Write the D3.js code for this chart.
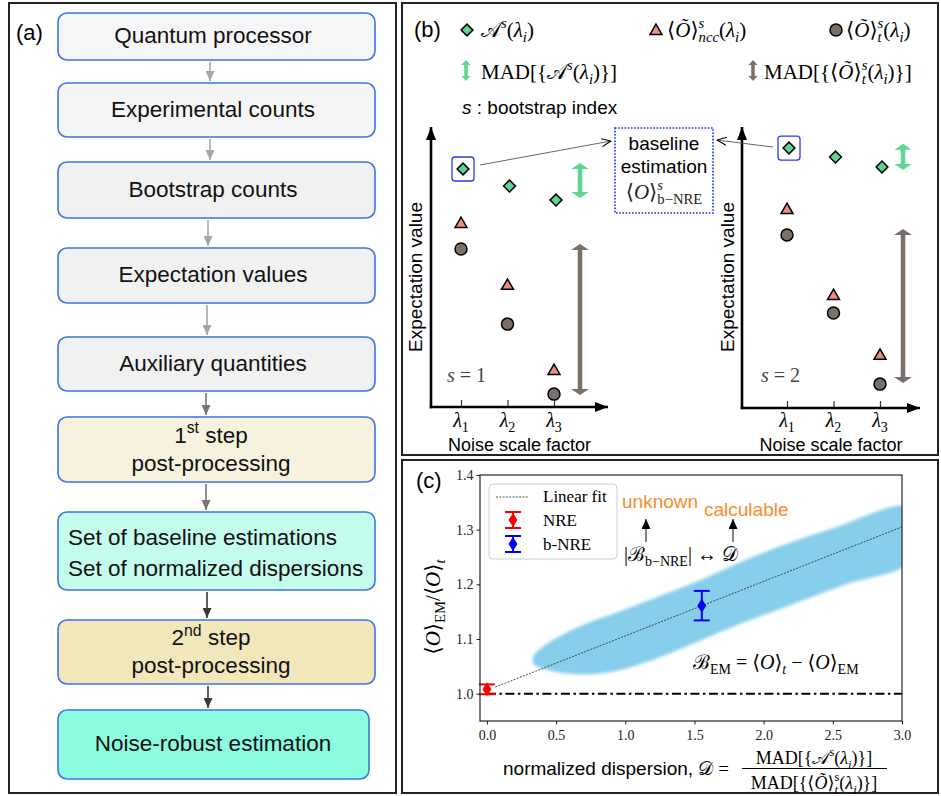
<!DOCTYPE html>
<html>
<head>
<meta charset="utf-8">
<script src="https://cdn.jsdelivr.net/npm/d3@7"></script>
<style>
  body { margin: 0; background: #fff; }
  svg { display: block; }
</style>
</head>
<body>
<div id="chart"></div>
<script>
// ---------- data ----------
// (a) flow chart
const steps = ['Quantum processor', 'Experimental counts', 'Bootstrap counts', 'Expectation values',
  'Auxiliary quantities', '1st step|post-processing', 'Set of baseline estimations|Set of normalized dispersions',
  '2nd step|post-processing', 'Noise-robust estimation']

// (b) toy bootstrap samples, expectation value in arbitrary units (0 = axis, 1 = arrow tip)
const lambdas = ['1', '2', '3']
const adaptS1 = [0.850, 0.789, 0.739]
const nccS1 = [0.657, 0.436, 0.132]
const tS1 = [0.564, 0.296, 0.046]
const madAS1 = [0.746, 0.871]
const madTS1 = [0.043, 0.582]
const adaptS2 = [0.925, 0.893, 0.858]
const nccS2 = [0.708, 0.402, 0.189]
const tS2 = [0.616, 0.338, 0.085]
const madAS2 = [0.847, 0.940]
const madTS2 = [0.089, 0.637]

// (c) ratio vs normalized dispersion
const xTicks = [0.0, 0.5, 1.0, 1.5, 2.0, 2.5, 3.0]
const yTicks = [1.0, 1.1, 1.2, 1.3, 1.4]
const cloudUpper = [[0.34, 1.070], [0.42, 1.088], [0.50, 1.101], [0.70, 1.126], [1.00, 1.154], [1.50, 1.203], [2.00, 1.258], [2.50, 1.302], [3.05, 1.340]]
const cloudLower = [[0.34, 1.054], [0.42, 1.045], [0.50, 1.040], [0.70, 1.035], [0.90, 1.040], [1.20, 1.062], [1.50, 1.093], [1.80, 1.125], [2.20, 1.163], [2.60, 1.201], [3.05, 1.242]]
const linearFit = [[0.06, 1.012], [3.0, 1.305]]
const nre = { d: 0.0, v: 1.008, lo: 0.999, hi: 1.017 }
const bnre = { d: 1.553, v: 1.161, lo: 1.134, hi: 1.188 }

// ---------- setup ----------
const W = 941, H = 796
const sans = "'Liberation Sans', Arial, sans-serif"
const serif = "'Liberation Serif', 'DejaVu Serif', serif"

const svg = d3.select('#chart').append('svg')
  .attr('width', W).attr('height', H)
svg.append('rect').attr('width', W).attr('height', H).attr('fill', '#fff')

const defs = svg.append('defs')

function headMarker(id, color, w, h) {
  defs.append('marker').attr('id', id)
    .attr('viewBox', `0 0 ${w} ${h}`)
    .attr('refX', w).attr('refY', h / 2)
    .attr('markerWidth', w).attr('markerHeight', h)
    .attr('markerUnits', 'userSpaceOnUse')
    .attr('orient', 'auto')
    .append('path').attr('d', `M0,0 L${w},${h / 2} L0,${h} z`).attr('fill', color)
}
headMarker('axhead', '#000', 13, 10)
headMarker('flow1', '#aaa59f', 10, 9)
headMarker('flow2', '#7a736c', 10, 9)
headMarker('flow3', '#3c3935', 10, 9)
headMarker('blk', '#000', 10, 9)
defs.append('marker').attr('id', 'open')
  .attr('viewBox', '0 0 10 9').attr('refX', 9.5).attr('refY', 4.5)
  .attr('markerWidth', 10).attr('markerHeight', 9)
  .attr('markerUnits', 'userSpaceOnUse').attr('orient', 'auto')
  .append('path').attr('d', 'M0,0.5 L9.5,4.5 L0,8.5').attr('fill', 'none').attr('stroke', '#000').attr('stroke-width', 1.1)

defs.append('filter').attr('id', 'soft').attr('x', '-10%').attr('y', '-10%').attr('width', '120%').attr('height', '120%')
  .append('feGaussianBlur').attr('stdDeviation', 0.9)

// small helpers for math-like text
const R = t => ({ t })
const I = t => ({ t, i: true })
const SUP = (t, i, back) => ({ t, v: 'sup', i, back })
const SUB = (t, i, back) => ({ t, v: 'sub', i, back })

function rich(parent, x, y, segs, o) {
  const size = o.size
  const t = parent.append('text').attr('x', x).attr('y', y)
    .attr('font-family', o.family || serif).attr('font-size', size)
    .attr('text-anchor', o.anchor || 'start').attr('fill', o.fill || '#000')
  let cur = 0, prev = null
  segs.forEach(s => {
    const shift = s.v === 'sup' ? -0.42 * size : s.v === 'sub' ? 0.26 * size : 0
    const ts = t.append('tspan').attr('dy', shift - cur).text(s.t)
    if (s.v) ts.attr('font-size', 0.7 * size)
    if (s.i) ts.attr('font-style', 'italic')
    if (s.f) ts.attr('font-family', s.f)
    if (s.back && prev) ts.attr('dx', -prev.node().getComputedTextLength())
    cur = shift
    prev = ts
  })
  return t
}

function panelFrame(x, y, w, h) {
  svg.append('rect').attr('x', x).attr('y', y).attr('width', w).attr('height', h)
    .attr('fill', 'none').attr('stroke', '#222').attr('stroke-width', 2)
}
panelFrame(9, 3, 387, 790)
panelFrame(402, 3, 536, 452)
panelFrame(402, 460, 536, 333)

// ---------- (a) flow chart ----------
const boxLayout = [[13, 60], [83, 137], [162, 218], [248, 303], [337, 391], [417, 482], [512, 590], [620, 684], [710, 779]]
const boxFills = ['#f6f6f8', '#f5f5f6', '#f1f1f2', '#f1f1f2', '#f1f1f2', '#f7f2dd', '#c4fcee', '#f1e7ba', '#8cfce0']
const flowArrowX = [210, 210, 208, 207, 206, 206, 207, 208]
const flowArrowCol = ['flow1', 'flow1', 'flow1', 'flow1', 'flow2', 'flow2', 'flow3', 'flow3']
const flowArrowStroke = ['#aaa59f', '#aaa59f', '#aaa59f', '#aaa59f', '#7a736c', '#7a736c', '#3c3935', '#3c3935']

const ga = svg.append('g')
ga.append('text').attr('x', 16).attr('y', 40).attr('font-family', sans).attr('font-size', 22).text('(a)')

ga.selectAll('rect.step').data(steps).enter().append('rect')
  .attr('class', 'step')
  .attr('x', 58)
  .attr('y', (d, i) => boxLayout[i][0])
  .attr('width', (d, i) => i === 8 ? 311 : 317)
  .attr('height', (d, i) => boxLayout[i][1] - boxLayout[i][0])
  .attr('rx', 9)
  .attr('fill', (d, i) => boxFills[i])
  .attr('stroke', '#3d74e0').attr('stroke-width', 1.6)

steps.forEach((s, i) => {
  const [t0, t1] = boxLayout[i]
  const cy = (t0 + t1) / 2
  const lines = s.split('|')
  if (lines.length === 1) {
    ga.append('text').attr('x', 213).attr('y', cy + 6.5).attr('text-anchor', 'middle')
      .attr('font-family', sans).attr('font-size', 22.5).attr('fill', '#111').text(s)
  } else if (i === 6) {
    lines.forEach((l, k) => {
      ga.append('text').attr('x', 68).attr('y', cy - 13 + k * 31 + 7)
        .attr('font-family', sans).attr('font-size', 22.5).attr('fill', '#111').text(l)
    })
  } else {
    const m = lines[0].match(/^(\d)(\w\w) (.*)$/)
    rich(ga, 211, cy - 7, [R(m[1]), SUP(m[2]), R(' ' + m[3])], { size: 22.5, family: sans, anchor: 'middle', fill: '#111' })
    ga.append('text').attr('x', 211).attr('y', cy + 21).attr('text-anchor', 'middle')
      .attr('font-family', sans).attr('font-size', 22.5).attr('fill', '#111').text(lines[1])
  }
})

flowArrowX.forEach((x, i) => {
  ga.append('line').attr('x1', x).attr('x2', x)
    .attr('y1', boxLayout[i][1] + 2).attr('y2', boxLayout[i + 1][0] - 2)
    .attr('stroke', flowArrowStroke[i]).attr('stroke-width', 1.6)
    .attr('marker-end', `url(#${flowArrowCol[i]})`)
})

// ---------- (b) ----------
const gb = svg.append('g')
const cA = '#5cd690', cN = '#ec8b80', cT = '#7a7067'
gb.append('text').attr('x', 414).attr('y', 37).attr('font-family', sans).attr('font-size', 22).text('(b)')

const sym = (type, size) => d3.symbol().type(type).size(size)()
const diamondPath = sym(d3.symbolSquare, 70)
const triPath = sym(d3.symbolTriangle, 62)

function madArrow(g, x, y1, y2, col, shaft, headW, headH) {
  g.append('line').attr('x1', x).attr('x2', x).attr('y1', y1 + headH - 1).attr('y2', y2 - headH + 1)
    .attr('stroke', col).attr('stroke-width', shaft)
  g.append('path').attr('d', `M${x},${y1} L${x + headW / 2},${y1 + headH} L${x - headW / 2},${y1 + headH} z`).attr('fill', col)
  g.append('path').attr('d', `M${x},${y2} L${x + headW / 2},${y2 - headH} L${x - headW / 2},${y2 - headH} z`).attr('fill', col)
}

// legend
gb.append('path').attr('d', diamondPath).attr('transform', 'translate(467,30) rotate(45)')
  .attr('fill', cA).attr('stroke', '#000').attr('stroke-width', 1.5)
rich(gb, 481, 37, [R('𝒜'), SUP('s', true), R('('), I('λ'), SUB('i', true), R(')')], { size: 21 })
gb.append('path').attr('d', triPath).attr('transform', 'translate(656,31)')
  .attr('fill', cN).attr('stroke', '#000').attr('stroke-width', 1.5)
rich(gb, 667, 37, [R('⟨'), I('Õ'), R('⟩'), SUP('s', true), SUB('ncc', true, true), R('('), I('λ'), SUB('i', true), R(')')], { size: 21 })
gb.append('circle').attr('cx', 836).attr('cy', 30).attr('r', 6)
  .attr('fill', cT).attr('stroke', '#000').attr('stroke-width', 1.5)
rich(gb, 846, 37, [R('⟨'), I('Õ'), R('⟩'), SUB('t', true), SUP('s', true, true), R('('), I('λ'), SUB('i', true), R(')')], { size: 21 })

madArrow(gb, 466, 60, 81, cA, 3.5, 9, 5)
rich(gb, 481, 79, [R('MAD[{'), R('𝒜'), SUP('s', true), R('('), I('λ'), SUB('i', true), R(')}]')], { size: 21 })
madArrow(gb, 753, 60, 81, cT, 3.5, 9, 5)
rich(gb, 764, 79, [R('MAD[{⟨'), I('Õ'), R('⟩'), SUB('t', true), SUP('s', true, true), R('('), I('λ'), SUB('i', true), R(')}]')], { size: 21 })

rich(gb, 462, 114, [{ t: 's', i: true, f: sans }, { t: ' : bootstrap index', f: sans }], { size: 19, family: sans })

const subplots = [
  { axisX: 431, axisY: 407, tipX: 608, l1: 461, l3: 554, barX: 580, sX: 447, labX: 415, s: '1',
    A: adaptS1, N: nccS1, T: tS1, madA: madAS1, madT: madTS1 },
  { axisX: 742, axisY: 408, tipX: 920, l1: 787, l3: 880, barX: 903, sX: 761, labX: 727, s: '2',
    A: adaptS2, N: nccS2, T: tS2, madA: madAS2, madT: madTS2 }
]

subplots.forEach(sp => {
  const g = gb.append('g')
  const x = d3.scalePoint().domain(lambdas).range([sp.l1, sp.l3])
  const y = d3.scaleLinear().domain([0, 1]).range([sp.axisY, 127])

  // ticks with lambda labels
  const ax = g.append('g').attr('transform', `translate(0,${sp.axisY})`)
    .call(d3.axisBottom(x).tickSize(-7).tickFormat(''))
  ax.select('.domain').remove()
  ax.selectAll('.tick line').attr('stroke', '#333').attr('stroke-width', 1.2)
  lambdas.forEach(l => {
    rich(g, x(l), 427, [I('λ'), SUB(l)], { size: 20, anchor: 'middle' })
  })

  // arrows for axes
  g.append('line').attr('x1', sp.axisX).attr('x2', sp.axisX).attr('y1', sp.axisY + 1.2).attr('y2', 127)
    .attr('stroke', '#000').attr('stroke-width', 2.6).attr('marker-end', 'url(#axhead)')
  g.append('line').attr('x1', sp.axisX - 1.2).attr('x2', sp.tipX).attr('y1', sp.axisY).attr('y2', sp.axisY)
    .attr('stroke', '#000').attr('stroke-width', 2.6).attr('marker-end', 'url(#axhead)')

  g.append('text').attr('x', (sp.axisX + sp.tipX) / 2).attr('y', 451).attr('text-anchor', 'middle')
    .attr('font-family', sans).attr('font-size', 18).text('Noise scale factor')
  g.append('text').attr('transform', `translate(${sp.labX + 7},277) rotate(-90)`).attr('text-anchor', 'middle')
    .attr('font-family', sans).attr('font-size', 19).text('Expectation value')

  rich(g, sp.sX, 382, [I('s'), R(' = ' + sp.s)], { size: 20, fill: '#444' })

  // MAD bars
  madArrow(g, sp.barX, y(sp.madA[1]), y(sp.madA[0]), cA, 4.5, 17, 6)
  madArrow(g, sp.barX, y(sp.madT[1]), y(sp.madT[0]), cT, 4.5, 18, 6)

  g.selectAll('circle.t').data(sp.T).enter().append('circle').attr('class', 't')
    .attr('cx', (d, i) => x(lambdas[i])).attr('cy', d => y(d)).attr('r', 6)
    .attr('fill', cT).attr('stroke', '#000').attr('stroke-width', 1.5)
  g.selectAll('path.n').data(sp.N).enter().append('path').attr('class', 'n')
    .attr('d', triPath).attr('transform', (d, i) => `translate(${x(lambdas[i])},${y(d) + 1})`)
    .attr('fill', cN).attr('stroke', '#000').attr('stroke-width', 1.5)
  g.selectAll('path.a').data(sp.A).enter().append('path').attr('class', 'a')
    .attr('d', diamondPath).attr('transform', (d, i) => `translate(${x(lambdas[i]) + 2},${y(d)}) rotate(45)`)
    .attr('fill', cA).attr('stroke', '#000').attr('stroke-width', 1.5)

  // highlight box around the first diamond
  g.append('rect').attr('x', x(lambdas[0]) + 2 - 11).attr('y', y(sp.A[0]) - 12)
    .attr('width', 22).attr('height', 24).attr('rx', 3)
    .attr('fill', 'none').attr('stroke', '#2a3cf0').attr('stroke-width', 1.3)
  sp.boxPt = [x(lambdas[0]) + 2, y(sp.A[0])]
})

// baseline estimation box
gb.append('rect').attr('x', 615).attr('y', 128).attr('width', 98).attr('height', 85)
  .attr('fill', '#fff').attr('stroke', '#1c2ee8').attr('stroke-width', 1.6).attr('stroke-dasharray', '1.6,1.6')
gb.append('text').attr('x', 664).attr('y', 150).attr('text-anchor', 'middle')
  .attr('font-family', sans).attr('font-size', 19).text('baseline')
gb.append('text').attr('x', 664).attr('y', 173).attr('text-anchor', 'middle')
  .attr('font-family', sans).attr('font-size', 19).text('estimation')
rich(gb, 664, 199, [R('⟨'), I('O'), R('⟩'), SUP('s', true), SUB('b−NRE', false, true)], { size: 21, anchor: 'middle', fill: '#222' })

gb.append('line').attr('x1', subplots[0].boxPt[0] + 17).attr('y1', subplots[0].boxPt[1] - 4)
  .attr('x2', 611).attr('y2', 141).attr('stroke', '#555').attr('stroke-width', 0.9).attr('marker-end', 'url(#open)')
gb.append('line').attr('x1', subplots[1].boxPt[0] - 16).attr('y1', subplots[1].boxPt[1] - 1)
  .attr('x2', 717).attr('y2', 140).attr('stroke', '#555').attr('stroke-width', 0.9).attr('marker-end', 'url(#open)')

// ---------- (c) ----------
const gc = svg.append('g')
gc.append('text').attr('x', 416).attr('y', 488).attr('font-family', sans).attr('font-size', 22).text('(c)')

const xC = d3.scaleLinear().domain([-0.05, 3.0]).range([480, 902])
const yC = d3.scaleLinear().domain([0.95, 1.4]).range([721, 475])

defs.append('clipPath').attr('id', 'plotclip').append('rect')
  .attr('x', 480).attr('y', 475).attr('width', 422).attr('height', 246)

const plot = gc.append('g').attr('clip-path', 'url(#plotclip)')
const cloudPts = cloudUpper.concat(cloudLower.slice().reverse())
const cloudLine = d3.line().x(d => xC(d[0])).y(d => yC(d[1])).curve(d3.curveCatmullRomClosed.alpha(0.5))
plot.append('path').attr('d', cloudLine(cloudPts)).attr('fill', '#87ceeb')
  .attr('stroke', '#b5e1f4').attr('stroke-width', 2.5).attr('stroke-opacity', 0.7)
  .attr('filter', 'url(#soft)')

// reference line at 1
plot.append('line').attr('x1', xC(0)).attr('x2', xC(3.0)).attr('y1', yC(1.0)).attr('y2', yC(1.0))
  .attr('stroke', '#000').attr('stroke-width', 2).attr('stroke-dasharray', '9,3.5,2.5,3.5')

// linear fit
plot.append('path').datum(linearFit)
  .attr('d', d3.line().x(d => xC(d[0])).y(d => yC(d[1])))
  .attr('fill', 'none').attr('stroke', '#222').attr('stroke-width', 0.8).attr('stroke-dasharray', '2,1.3')

function errPoint(g, cx, cy, ylo, yhi, col) {
  g.append('line').attr('x1', cx).attr('x2', cx).attr('y1', ylo).attr('y2', yhi).attr('stroke', col).attr('stroke-width', 2)
  g.append('line').attr('x1', cx - 8).attr('x2', cx + 8).attr('y1', ylo).attr('y2', ylo).attr('stroke', col).attr('stroke-width', 2)
  g.append('line').attr('x1', cx - 8).attr('x2', cx + 8).attr('y1', yhi).attr('y2', yhi).attr('stroke', col).attr('stroke-width', 2)
  g.append('path').attr('d', `M${cx},${cy - 7} L${cx + 4.5},${cy} L${cx},${cy + 7} L${cx - 4.5},${cy} z`).attr('fill', col)
}
errPoint(gc, xC(bnre.d), yC(bnre.v), yC(bnre.lo), yC(bnre.hi), '#0000ff')
errPoint(gc, xC(nre.d), yC(nre.v), yC(nre.lo), yC(nre.hi), '#ff0000')

// axes
const xAx = gc.append('g').attr('transform', 'translate(0,721)')
  .call(d3.axisBottom(xC).tickValues(xTicks).tickSize(3.5).tickSizeOuter(0).tickFormat(d3.format('.1f')))
const yAx = gc.append('g').attr('transform', 'translate(480,0)')
  .call(d3.axisLeft(yC).tickValues(yTicks).tickSize(3.5).tickSizeOuter(0).tickFormat(d3.format('.1f')))
;[xAx, yAx].forEach(a => {
  a.select('.domain').remove()
  a.selectAll('text').attr('font-family', serif).attr('font-size', 14).attr('fill', '#222')
  a.selectAll('.tick line').attr('stroke', '#222')
})
xAx.selectAll('text').attr('dy', '0.9em')
gc.append('rect').attr('x', 480).attr('y', 475).attr('width', 422).attr('height', 246)
  .attr('fill', 'none').attr('stroke', '#111').attr('stroke-width', 1.1)

// y label
const yl = gc.append('g').attr('transform', 'translate(440,607) rotate(-90)')
rich(yl, 0, 0, [R('⟨'), I('O'), R('⟩'), SUB('EM'), R('/⟨'), I('O'), R('⟩'), SUB('t', true)], { size: 21, anchor: 'middle' })

// x label with fraction
rich(gc, 503, 775, [{ t: 'normalized dispersion, ', f: sans }, R('𝒟'), R(' =')], { size: 19 })
gc.append('line').attr('x1', 742).attr('x2', 887).attr('y1', 768.5).attr('y2', 768.5).attr('stroke', '#000').attr('stroke-width', 1)
rich(gc, 814, 764, [R('MAD[{'), R('𝒜'), SUP('s'), R('('), I('λ'), SUB('i', true), R(')}]')], { size: 18 })
  .attr('text-anchor', 'middle')
rich(gc, 814, 789, [R('MAD[{⟨'), I('Õ'), R('⟩'), SUB('t', true), SUP('s', false, true), R('('), I('λ'), SUB('i', true), R(')}]')], { size: 18, anchor: 'middle' })

// legend
const lg = gc.append('g')
lg.append('rect').attr('x', 489).attr('y', 484).attr('width', 128).attr('height', 75).attr('rx', 4)
  .attr('fill', '#fff').attr('fill-opacity', 0.85).attr('stroke', '#ccc').attr('stroke-width', 1)
lg.append('line').attr('x1', 496).attr('x2', 529).attr('y1', 497).attr('y2', 497)
  .attr('stroke', '#222').attr('stroke-width', 0.8).attr('stroke-dasharray', '2,1.3')
errPoint(lg, 513, 520, 528, 512, '#ff0000')
errPoint(lg, 513, 544, 552, 536, '#0000ff')
const legText = ['Linear fit', 'NRE', 'b-NRE']
legText.forEach((t, i) => {
  lg.append('text').attr('x', 543).attr('y', 502 + i * 24).attr('font-family', serif).attr('font-size', 17).text(t)
})

// annotations
const orange = '#f98b2a'
gc.append('text').attr('x', 622).attr('y', 508).attr('font-family', sans).attr('font-size', 19).attr('fill', orange).text('unknown')
gc.append('text').attr('x', 704).attr('y', 516).attr('font-family', sans).attr('font-size', 19).attr('fill', orange).text('calculable')
;[646, 733].forEach(x => {
  gc.append('line').attr('x1', x).attr('x2', x).attr('y1', 542).attr('y2', 519)
    .attr('stroke', '#333').attr('stroke-width', 1.2).attr('marker-end', 'url(#blk)')
})
rich(gc, 624, 561, [R('|ℬ'), SUB('b−NRE'), R('| ↔ '), R('𝒟')], { size: 20 })
rich(gc, 693, 669, [R('ℬ'), SUB('EM'), R(' = ⟨'), I('O'), R('⟩'), SUB('t', true), R(' − ⟨'), I('O'), R('⟩'), SUB('EM')], { size: 20 })
</script>
</body>
</html>
